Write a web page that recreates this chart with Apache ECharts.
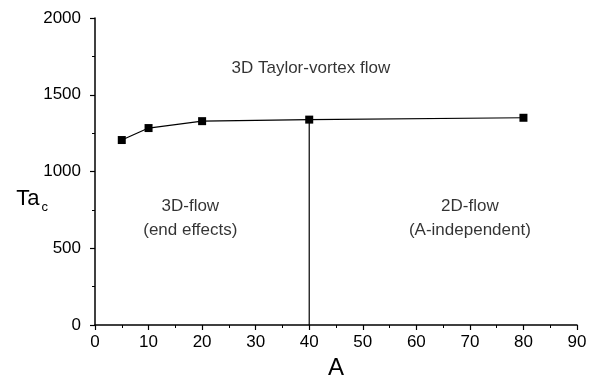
<!DOCTYPE html>
<html><head><meta charset="utf-8">
<script src="https://cdn.jsdelivr.net/npm/echarts@6/dist/echarts.min.js"></script>
<style>html,body{margin:0;padding:0;background:#fff}#c{width:591px;height:379px}</style>
</head><body><div id="c"></div>
<script>
const aspectA = [5, 10, 20, 40, 80];
const taC = [1205, 1283, 1328, 1338, 1350];
const xTicks = [0, 10, 20, 30, 40, 50, 60, 70, 80, 90];
const yTicks = [0, 500, 1000, 1500, 2000];
const boundaryA = 40;
const notes = [
  [40.3, 1674, '3D Taylor-vortex flow'],
  [17.8, 697, '3D-flow\n(end effects)'],
  [70.0, 697, '2D-flow\n(A-independent)']
];
const FONT = '"Liberation Sans", Arial, sans-serif';
const chart = echarts.init(document.getElementById('c'), null, {renderer: 'canvas'});
const bIdx = aspectA.indexOf(boundaryA);
chart.setOption({
  animation: false,
  backgroundColor: '#fff',
  grid: {left: 95, right: 14, top: 18, bottom: 54, containLabel: false, outerBoundsMode: 'none'},
  xAxis: {
    type: 'value', min: xTicks[0], max: xTicks[xTicks.length-1], interval: 10,
    name: 'A', nameLocation: 'middle', nameGap: 31, nameMoveOverlap: false,
    nameTextStyle: {fontFamily: FONT, fontSize: 24, color: '#000'},
    axisLine: {show: true, lineStyle: {color: '#000', width: 1.5}},
    axisTick: {show: true, length: 5, lineStyle: {color: '#000', width: 1.2}},
    minorTick: {show: true, splitNumber: 2, length: 3, lineStyle: {color: '#000', width: 1}},
    axisLabel: {fontFamily: FONT, fontSize: 17, color: '#000', margin: 9},
    splitLine: {show: false}
  },
  yAxis: {
    type: 'value', min: yTicks[0], max: yTicks[yTicks.length-1], interval: 500,
    name: '{m|Ta}{s|c}', nameLocation: 'middle', nameGap: 47, nameRotate: 0, nameMoveOverlap: false,
    nameTextStyle: {fontFamily: FONT, color: '#000', align: 'right', padding: [54, 0, 0, 0],
      rich: {m: {fontFamily: FONT, fontSize: 22, color: '#000'},
             s: {fontFamily: FONT, fontSize: 13, color: '#000', padding: [18, 0, 0, 2]}}},
    axisLine: {show: true, lineStyle: {color: '#000', width: 1.5}},
    axisTick: {show: true, length: 5, lineStyle: {color: '#000', width: 1.2}},
    minorTick: {show: true, splitNumber: 2, length: 3, lineStyle: {color: '#000', width: 1}},
    axisLabel: {fontFamily: FONT, fontSize: 17, color: '#000', margin: 14, formatter: v => String(v)},
    splitLine: {show: false}
  },
  series: [
    {
      type: 'line',
      data: aspectA.map((a, i) => [a, taC[i]]),
      symbol: 'rect', symbolSize: 8,
      itemStyle: {color: '#000'},
      lineStyle: {color: '#000', width: 1.2},
      z: 5
    },
    {
      type: 'line',
      data: [[boundaryA, 0], [boundaryA, taC[bIdx]]],
      showSymbol: false, symbol: 'none',
      lineStyle: {color: '#000', width: 1.2}
    },
    {
      type: 'scatter',
      data: notes,
      symbolSize: 0,
      label: {show: true, position: 'inside', formatter: p => p.data[2],
        fontFamily: FONT, fontSize: 17, color: '#000', lineHeight: 24, align: 'center'},
      silent: true
    }
  ]
});
</script></body></html>
